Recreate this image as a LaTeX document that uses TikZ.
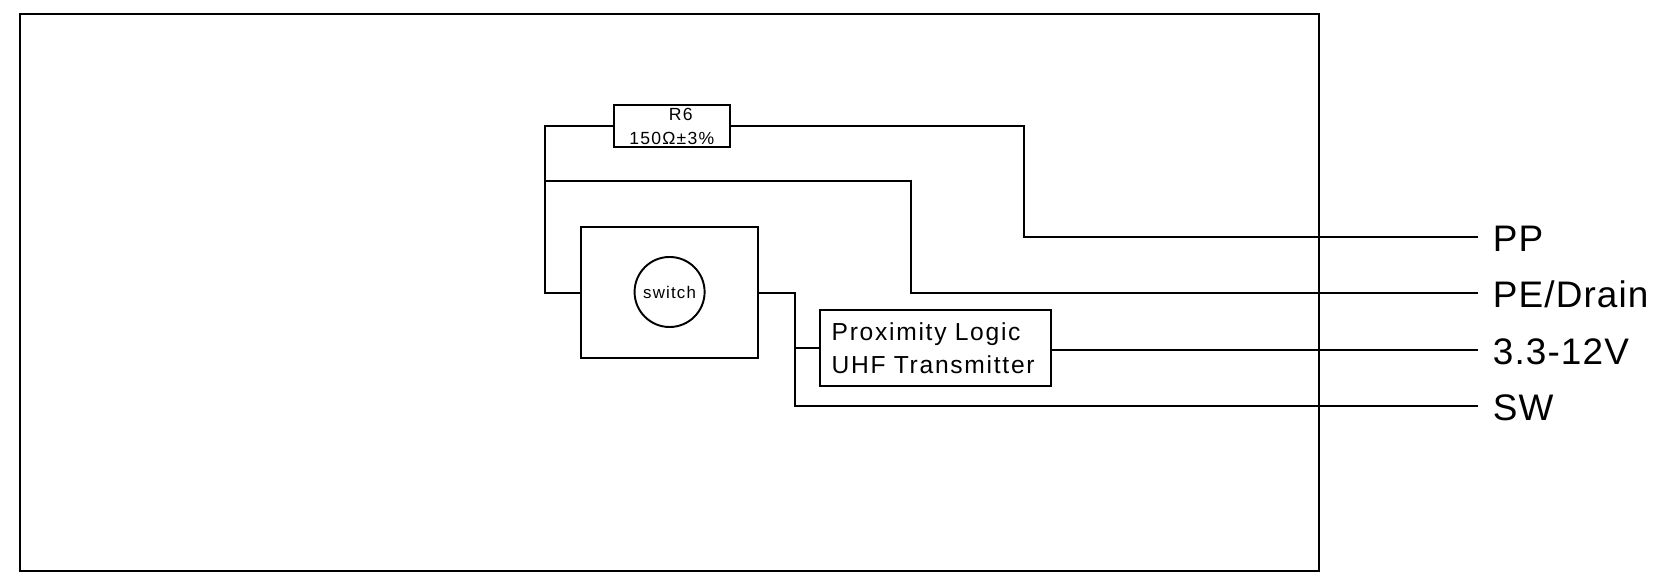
\documentclass[tikz,border=0pt]{standalone}
\usepackage{xcolor}
\usepackage{fontspec}
\setmainfont[LetterSpace=7]{Liberation Sans}
\usepackage{tikz}

\begin{document}
\begin{tikzpicture}[x=0.01cm, y=-0.01cm, line width=0.55pt,
                box/.style={draw, rectangle, inner sep=0pt},
                wire/.style={draw},
                pin/.style={anchor=west, inner ysep=0pt, inner xsep=0.14cm, text height=0.29cm, text depth=0cm, font=\fontsize{10.5}{12}\selectfont\addfontfeature{LetterSpace=3}}]
                \useasboundingbox (0,0) rectangle (1668,574);
                \node[box, minimum width=12.99cm, minimum height=5.57cm] (frame) at (669.5,292.5) {};
                \node[box, minimum width=1.164cm, minimum height=0.42cm, align=center, font=\fontsize{5}{6.8}\selectfont] (r6) at (671.8,126.3) {\hspace*{0.18cm}R6\\150Ω±3\%};
                \node[box, minimum width=1.775cm, minimum height=1.31cm] (swbox) at (669.5,292.8) {};
                \node[draw, circle, inner sep=0pt, minimum size=0.7cm, font=\fontsize{4.8}{6}\selectfont] (switch) at (669.6,292) {switch};
                \node[box, inner xsep=0.12cm, text width=2.07cm, minimum height=0.753cm, align=left, font=\fontsize{7}{9.5}\selectfont] (logic) at (935.2,348) {Proximity Logic\\UHF Transmitter};
                \node[pin] (pp) at (1478,237) {PP};
                \node[pin] (pe) at (1478,293) {PE/Drain};
                \node[pin] (vcc) at (1478,349.7) {3.3-12V};
                \node[pin] (sw) at (1478,406.3) {SW};
                \coordinate (left) at (544.6,181.3);
                \coordinate (drop) at (794.6,348);
                \coordinate (ppdrop) at (1023.6,237);
                \coordinate (pedrop) at (911.4,293);
                \draw[wire] (r6.west) -- (r6.west -| left) -- (left |- swbox.west) -- (swbox.west);
                \draw[wire] (r6.east) -- (r6.east -| ppdrop) -- (ppdrop) -- (pp.west);
                \draw[wire] (left) -- (left -| pedrop) -- (pedrop) -- (pe.west);
                \draw[wire] (swbox.east) -- (swbox.east -| drop) -- (drop |- sw.west) -- (sw.west);
                \draw[wire] (drop) -- (logic.west);
                \draw[wire] (logic.east |- vcc.west) -- (vcc.west);
            \end{tikzpicture}
\end{document}
